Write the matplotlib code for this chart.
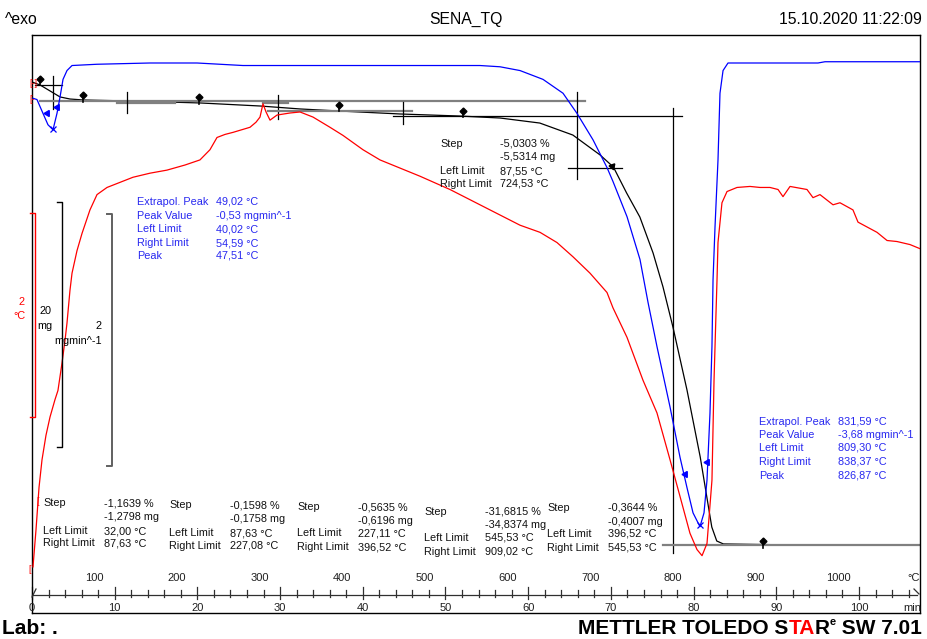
import matplotlib as mpl
mpl.use('Agg')
import matplotlib.pyplot as plt
import matplotlib.transforms as mtrans
import numpy as np

plt.rcParams['font.family'] = ['Liberation Sans', 'DejaVu Sans']

# ---- data (time in min) ----
# SDTA signal, red (°C)
red_t = [0.12, 0.48, 0.85, 1.21, 1.69, 2.18, 2.78, 3.14, 3.63, 3.99, 4.23, 4.59, 4.84, 5.44, 6.05,
         7.01, 7.86, 9.07, 10.64, 12.21, 14.27, 16.32, 18.50, 20.31, 21.52, 22.37, 23.34, 24.30,
         26.36, 27.09, 27.57, 27.93, 28.30, 28.78, 29.63, 31.20, 32.41, 33.98, 36.03, 37.61, 40.02,
         42.08, 44.50, 46.92, 50.54, 54.17, 56.59, 59.01, 61.43, 63.48, 65.42, 67.47, 69.53, 70.25,
         71.95, 73.88, 75.57, 77.15, 78.36, 79.56, 80.41, 81.02, 81.62, 82.22, 82.47, 82.71, 82.83,
         82.95, 83.43, 84.04, 85.25, 86.82, 88.03, 89.24, 90.21, 90.81, 91.66, 93.71, 94.44, 95.28,
         96.86, 97.70, 99.27, 99.88, 102.18, 103.39, 104.59, 106.17, 107.37]
red_v = [-4.45, -4.09, -3.67, -3.40, -3.16, -2.98, -2.81, -2.72, -2.45, -2.23, -2.06, -1.74, -1.57,
         -1.35, -1.18, -0.95, -0.80, -0.73, -0.68, -0.63, -0.59, -0.56, -0.51, -0.46, -0.36, -0.24,
         -0.21, -0.19, -0.14, -0.09, -0.04, 0.09, 0.01, -0.07, -0.02, 0.00, 0.01, -0.04, -0.14,
         -0.22, -0.36, -0.46, -0.54, -0.62, -0.75, -0.90, -1.00, -1.10, -1.17, -1.27, -1.41, -1.57,
         -1.76, -1.91, -2.20, -2.62, -2.94, -3.40, -3.76, -4.12, -4.28, -4.34, -4.22, -3.60, -2.62,
         -1.96, -1.64, -1.27, -0.88, -0.77, -0.73, -0.72, -0.73, -0.73, -0.75, -0.82, -0.72, -0.75,
         -0.83, -0.80, -0.90, -0.88, -0.95, -1.07, -1.17, -1.25, -1.26, -1.29, -1.33]

# DTG, blue (mg/min)
dtg_t = [0.12, 0.60, 1.33, 1.93, 2.54, 3.02, 3.39, 3.75, 4.23, 4.84, 7.86, 14.27, 19.95, 25.51,
         32.41, 38.45, 46.92, 54.17, 56.59, 59.01, 61.79, 64.21, 65.90, 67.84, 69.53, 70.25, 71.95,
         73.52, 74.49, 75.57, 77.15, 78.36, 79.20, 79.93, 80.77, 81.26, 81.62, 81.98, 82.22, 82.35,
         82.59, 82.95, 83.19, 83.56, 84.16, 92.87, 95.04, 95.89, 107.37]
dtg_v = [-0.28, -0.29, -0.40, -0.49, -0.53, -0.40, -0.27, -0.13, -0.06, -0.02, -0.01, 0.0, 0.0,
         -0.02, -0.02, -0.02, -0.02, -0.02, -0.03, -0.06, -0.13, -0.24, -0.40, -0.61, -0.83, -0.94,
         -1.22, -1.56, -1.90, -2.25, -2.73, -3.13, -3.37, -3.57, -3.68, -3.57, -3.31, -2.78, -2.25,
         -1.72, -1.30, -0.77, -0.24, -0.06, 0.0, 0.0, 0.0, 0.01, 0.01]

# TGA, black (mg)
mass_t = [0.0, 0.97, 2.18, 3.39, 4.60, 6.30, 11.85, 20.30, 27.60, 32.40, 37.20, 44.50, 51.80, 56.60,
          61.40, 65.40, 68.70, 70.30, 71.90, 73.50, 75.10, 76.30, 77.50, 79.20, 80.80, 81.60, 82.20,
          82.80, 83.60, 92.90, 107.38]
mass_v = [110.0, 109.76, 109.27, 108.78, 108.61, 108.53, 108.45, 108.29, 108.04, 107.80, 107.63,
          107.39, 107.22, 107.06, 106.65, 105.67, 104.04, 103.06, 100.94, 98.98, 96.04, 93.27, 90.0,
          84.86, 79.39, 76.12, 73.67, 72.53, 72.29, 72.20, 72.20]

# evaluation construction lines on the TGA curve: (t0, t1, m0, m1, colour)
eval_lines = [
    (0.36, 3.63, 109.755, 109.755, 'k'), (2.54, 2.54, 110.49, 107.80, 'k'),
    (0.97, 66.87, 108.45, 108.45, 'gray'),
    (10.28, 17.29, 108.29, 108.29, 'gray'), (11.49, 11.49, 109.18, 107.47, 'k'),
    (27.93, 30.96, 108.29, 108.29, 'gray'), (29.75, 29.75, 108.94, 106.98, 'k'),
    (28.54, 45.95, 107.63, 107.63, 'gray'), (44.86, 44.86, 108.37, 106.57, 'k'),
    (43.65, 78.60, 107.22, 107.22, 'k'), (65.90, 65.90, 109.18, 102.08, 'k'),
    (64.81, 71.34, 102.98, 102.98, 'k'), (77.51, 77.51, 107.88, 71.55, 'k'),
    (76.30, 107.38, 72.20, 72.20, 'gray'),
]
pins_t = [0.97, 6.17, 20.19, 37.12, 52.12, 88.39]
pins_top = [110.24, 108.94, 108.78, 108.12, 107.63, 72.53]
pins_bot = [109.84, 108.37, 108.20, 107.63, 107.14, 71.96]

peak_lim_t = [1.81, 3.02, 78.96, 81.62]
peak_lim_v = [-0.40, -0.35, -3.26, -3.17]
peak_t = [2.54, 80.77]
peak_v = [-0.52, -3.67]

min_ticks = list(range(0, 101, 10))
temp_ticks = list(range(100, 1001, 100))
T0, RATE = 25.0, 10.0

W, H = 928, 639
fig = plt.figure(figsize=(W / 100, H / 100), dpi=100)
fig.patch.set_facecolor('white')

L, T, R, B = 32, 35, 920, 613
rect = [L / W, 1 - B / H, (R - L) / W, (B - T) / H]
XMAX = (R - L) / 8.27

ax_m = fig.add_axes(rect, label='mass')
ax_d = fig.add_axes(rect, label='dtg')
ax_r = fig.add_axes(rect, label='sdta')
ax_o = fig.add_axes([0, 0, 1, 1], label='overlay')
for a in (ax_m, ax_d, ax_r):
    a.set_xlim(0, XMAX)
    a.set_facecolor('none')
    a.set_xticks([])
    a.set_yticks([])
ax_m.set_ylim(66.653, 113.837)
ax_d.set_ylim(-4.365, 0.2222)
ax_r.set_ylim(-4.902, 0.7647)
for a in (ax_d, ax_r):
    for s in a.spines.values():
        s.set_visible(False)
for s in ax_m.spines.values():
    s.set_linewidth(1.0)
ax_o.set_xlim(0, W)
ax_o.set_ylim(H, 0)
ax_o.axis('off')
ax_o.set_facecolor('none')

# curves
ax_r.plot(red_t, red_v, color='red', lw=0.9)
ax_d.plot(dtg_t, dtg_v, color='#0000ff', lw=0.9)
ax_m.plot(mass_t, mass_v, color='black', lw=0.9)

for t0, t1, m0, m1, c in eval_lines:
    ax_m.plot([t0, t1], [m0, m1], color=('#808080' if c == 'gray' else 'black'),
              lw=(1.6 if c == 'gray' else 0.9))
for t, a, b in zip(pins_t, pins_top, pins_bot):
    ax_m.plot([t, t], [a, b], color='black', lw=1.2)
    ax_m.plot([t], [a], marker='D', ms=3.5, color='black')
ax_m.plot([70.13], [103.14], marker=(3, 0, 200), ms=5, color='black')

ax_d.plot(peak_lim_t, peak_lim_v, ls='none', marker=(3, 0, 90), ms=5, color='#0000ff')
ax_d.plot(peak_t, peak_v, ls='none', marker='x', ms=5, mew=0.9, color='#0000ff')

# scale bars
def bar(x, y0, y1, c, lw=1.0):
    ax_o.plot([x - 5, x, x, x - 5], [y0, y0, y1, y1], color=c, lw=lw)

bar(35, 213, 417, 'red')
bar(62, 202, 447, 'black')
bar(112, 214, 466, '#606060', 1.4)

def put(x, y, s, **kw):
    kw.setdefault('fontsize', 7.8)
    kw.setdefault('va', 'center')
    kw.setdefault('ha', 'left')
    return ax_o.text(x, y, s, **kw)

put(25, 302, '2', color='red', ha='right')
put(26, 316, '°C', color='red', ha='right')
put(52, 311, '20', ha='right')
put(52, 326, 'mg', ha='right')
put(102, 326, '2', ha='right')
put(102, 341, 'mgmin^-1', ha='right')

put(29, 83, '[-]', color='red', fontsize=6.5)
put(29, 99, '[-', color='red', fontsize=6.5)
put(36, 501, '[', color='red', fontsize=6.5)
put(28, 569, '[', color='red', fontsize=6.5)

# result blocks
BLUE = '#2828f0'
def block(lx, vx, rows, color='#101010'):
    for lab, val, y in rows:
        if lab:
            put(lx, y, lab, color=color)
        put(vx, y, val, color=color)

block(137, 216, [('Extrapol. Peak', '49,02 °C', 202), ('Peak Value', '-0,53 mgmin^-1', 216),
                 ('Left Limit', '40,02 °C', 229), ('Right Limit', '54,59 °C', 243),
                 ('Peak', '47,51 °C', 256)], BLUE)
block(759, 838, [('Extrapol. Peak', '831,59 °C', 422), ('Peak Value', '-3,68 mgmin^-1', 435),
                 ('Left Limit', '809,30 °C', 448), ('Right Limit', '838,37 °C', 462),
                 ('Peak', '826,87 °C', 476)], BLUE)
block(440, 500, [('Step', '-5,0303 %', 144), ('', '-5,5314 mg', 157),
                 ('Left Limit', '87,55 °C', 171), ('Right Limit', '724,53 °C', 184)])
block(43, 104, [('Step', '-1,1639 %', 503), ('', '-1,2798 mg', 517),
                ('Left Limit', '32,00 °C', 531), ('Right Limit', '87,63 °C', 543)])
block(169, 230, [('Step', '-0,1598 %', 505), ('', '-0,1758 mg', 519),
                 ('Left Limit', '87,63 °C', 533), ('Right Limit', '227,08 °C', 546)])
block(297, 358, [('Step', '-0,5635 %', 507), ('', '-0,6196 mg', 521),
                 ('Left Limit', '227,11 °C', 533), ('Right Limit', '396,52 °C', 547)])
block(424, 485, [('Step', '-31,6815 %', 512), ('', '-34,8374 mg', 525),
                 ('Left Limit', '545,53 °C', 538), ('Right Limit', '909,02 °C', 552)])
block(547, 608, [('Step', '-0,3644 %', 508), ('', '-0,4007 mg', 522),
                 ('Left Limit', '396,52 °C', 534), ('Right Limit', '545,53 °C', 548)])

# time / temperature axis inside the frame
tr = mtrans.blended_transform_factory(ax_m.transData, ax_o.transData)
AY = 595
ax_m.plot([0, 107.0], [AY, AY], color='#303030', lw=0.9, transform=tr, clip_on=False)
for t in range(0, 107, 2):
    major = t % 10 == 0
    ax_m.plot([t, t], [AY - (8 if major else 5), AY + (4 if major else 2)], color='#303030',
              lw=0.9, transform=tr, clip_on=False)
for t in min_ticks:
    ax_m.text(t, 608, str(t), transform=tr, ha='center', va='center', fontsize=8, color='#202020')
for T_ in temp_ticks:
    ax_m.text((T_ - T0) / RATE, 578, str(T_), transform=tr, ha='center', va='center',
              fontsize=8, color='#202020')
ax_o.plot([32, 36], [597, 589], color='#303030', lw=0.9)
ax_o.plot([914, 919], [589, 594], color='#303030', lw=0.9)
put(920, 578, '°C', ha='right', fontsize=8, color='#202020')
put(921, 608, 'min', ha='right', fontsize=8, color='#202020')

# header
put(5, 19, '^exo', fontsize=11.3)
put(466, 19, 'SENA_TQ', fontsize=11.3, ha='center')
put(922, 19, '15.10.2020 11:22:09', fontsize=11.3, ha='right')

# footer
put(2, 628, 'Lab: .', fontsize=15, fontweight='bold')
pieces = [('METTLER TOLEDO S', 'black', 15, 0), ('TA', 'red', 15, 0), ('R', 'black', 15, 0),
          ('e', 'black', 8, -6), (' SW 7.01', 'black', 15, 0)]
fig.canvas.draw()
rend = fig.canvas.get_renderer()
objs = []
for s, c, fs, dy in pieces:
    tx = put(0, 628 + dy, s, color=c, fontsize=fs, fontweight='bold')
    objs.append(tx)
widths = [o.get_window_extent(rend).width for o in objs]
x = 922 - sum(widths)
for o, w in zip(objs, widths):
    o.set_x(x)
    x += w

fig.savefig('out.png', dpi=100, facecolor='white')
